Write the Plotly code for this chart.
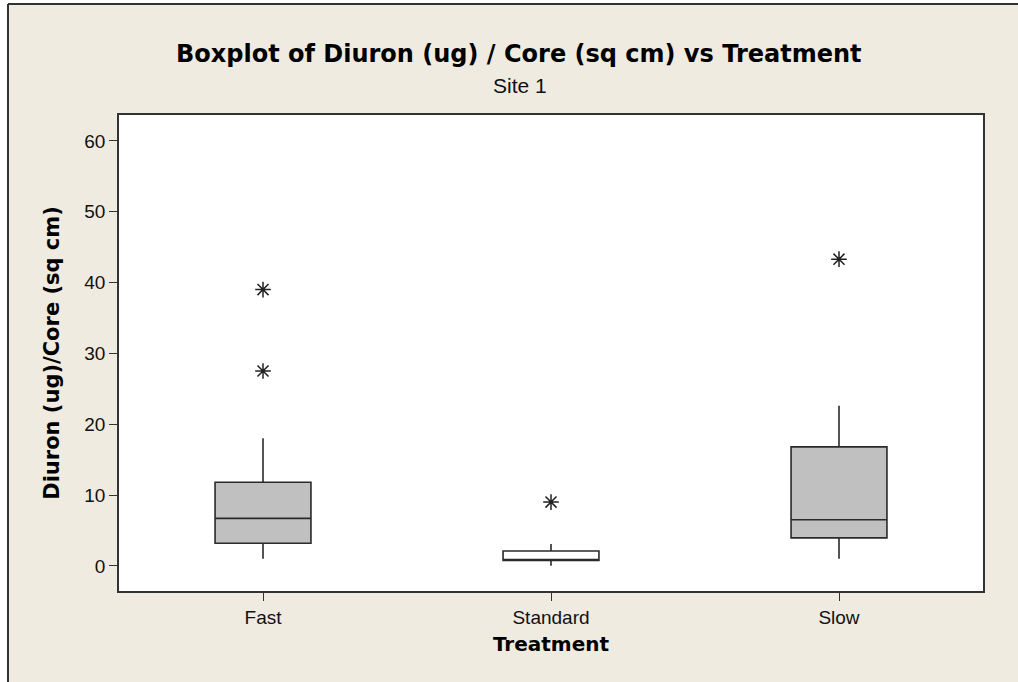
import plotly.graph_objects as go

categories = ["Fast", "Standard", "Slow"]
q1 = [3.2, 0.75, 3.95]
median = [6.7, 0.85, 6.5]
q3 = [11.8, 2.1, 16.8]
lower_whisker = [1.0, 0.0, 1.0]
upper_whisker = [18.0, 3.1, 22.6]
box_fill = ["#C0C0C0", "#FFFFFF", "#C0C0C0"]

outlier_cat = ["Fast", "Fast", "Standard", "Slow"]
outlier_val = [39.0, 27.5, 9.0, 43.3]

y_ticks = [0, 10, 20, 30, 40, 50, 60]

W, H = 1018, 682
L, R, T, B = 119, 35, 115, 91
pw, ph = W - L - R, H - T - B

def px(x):
    return (x - L) / pw

def py(y):
    return (H - B - y) / ph

BG = "#EFEBE1"
FONT = "Liberation Sans"
BFONT = "DejaVu Sans"

fig = go.Figure()
for i, c in enumerate(categories):
    fig.add_trace(go.Box(
        x=[c], q1=[q1[i]], median=[median[i]], q3=[q3[i]],
        lowerfence=[lower_whisker[i]], upperfence=[upper_whisker[i]],
        fillcolor=box_fill[i], line=dict(color="#2a2a2a", width=1.6),
        width=0.333, whiskerwidth=0, boxpoints=False, showlegend=False,
        hoverinfo="skip",
    ))

fig.add_trace(go.Scatter(
    x=outlier_cat, y=outlier_val, mode="markers",
    marker=dict(symbol="asterisk-open", size=13, color="#222",
                line=dict(color="#222", width=1.5)),
    showlegend=False, hoverinfo="skip",
))

shapes = [
    dict(type="rect", xref="paper", yref="paper", x0=px(-5), x1=px(W + 5), y0=py(4), y1=py(-5),
         fillcolor="white", line=dict(width=0), layer="below"),
    dict(type="rect", xref="paper", yref="paper", x0=px(-5), x1=px(8), y0=py(H + 5), y1=py(4),
         fillcolor="white", line=dict(width=0), layer="below"),
    dict(type="line", xref="paper", yref="paper", x0=px(8), x1=px(W + 5), y0=py(4), y1=py(4),
         line=dict(color="#333", width=2)),
    dict(type="line", xref="paper", yref="paper", x0=px(8), x1=px(8), y0=py(4), y1=py(H + 5),
         line=dict(color="#333", width=2)),
]

annotations = [
    dict(text="<b>Boxplot of Diuron (ug) / Core (sq cm) vs Treatment</b>", xref="paper", yref="paper",
         x=px(519), y=py(54), xanchor="center", yanchor="middle", showarrow=False,
         font=dict(family=BFONT, size=24, color="black")),
    dict(text="Site 1", xref="paper", yref="paper",
         x=px(520), y=py(85), xanchor="center", yanchor="middle", showarrow=False,
         font=dict(family=FONT, size=21, color="#111")),
]

fig.update_layout(
    width=W, height=H,
    margin=dict(l=L, r=R, t=T, b=B),
    paper_bgcolor=BG, plot_bgcolor="white",
    shapes=shapes, annotations=annotations,
    boxmode="overlay",
    xaxis=dict(
        categoryorder="array", categoryarray=categories, range=[-0.5, 2.5],
        showline=True, linecolor="#333", linewidth=1.5, mirror=True,
        ticks="outside", ticklen=8, tickcolor="#333", showgrid=False,
        tickfont=dict(family=FONT, size=19, color="#111"),
        title=dict(text="<b>Treatment</b>", font=dict(family=BFONT, size=20, color="black"), standoff=10),
    ),
    yaxis=dict(
        range=[-3.55, 63.65], tickvals=y_ticks, showline=True, linecolor="#333", linewidth=1.5, mirror=True,
        ticks="outside", ticklen=8, tickcolor="#333", showgrid=False, zeroline=False,
        tickfont=dict(family=FONT, size=19, color="#111"),
        title=dict(text="<b>Diuron (ug)/Core (sq cm)</b>", font=dict(family=BFONT, size=21, color="black"), standoff=19),
    ),
)

fig.write_html("out.html", config={"displayModeBar": False},
               post_script="document.body.style.margin='0';document.body.style.overflow='hidden';")
